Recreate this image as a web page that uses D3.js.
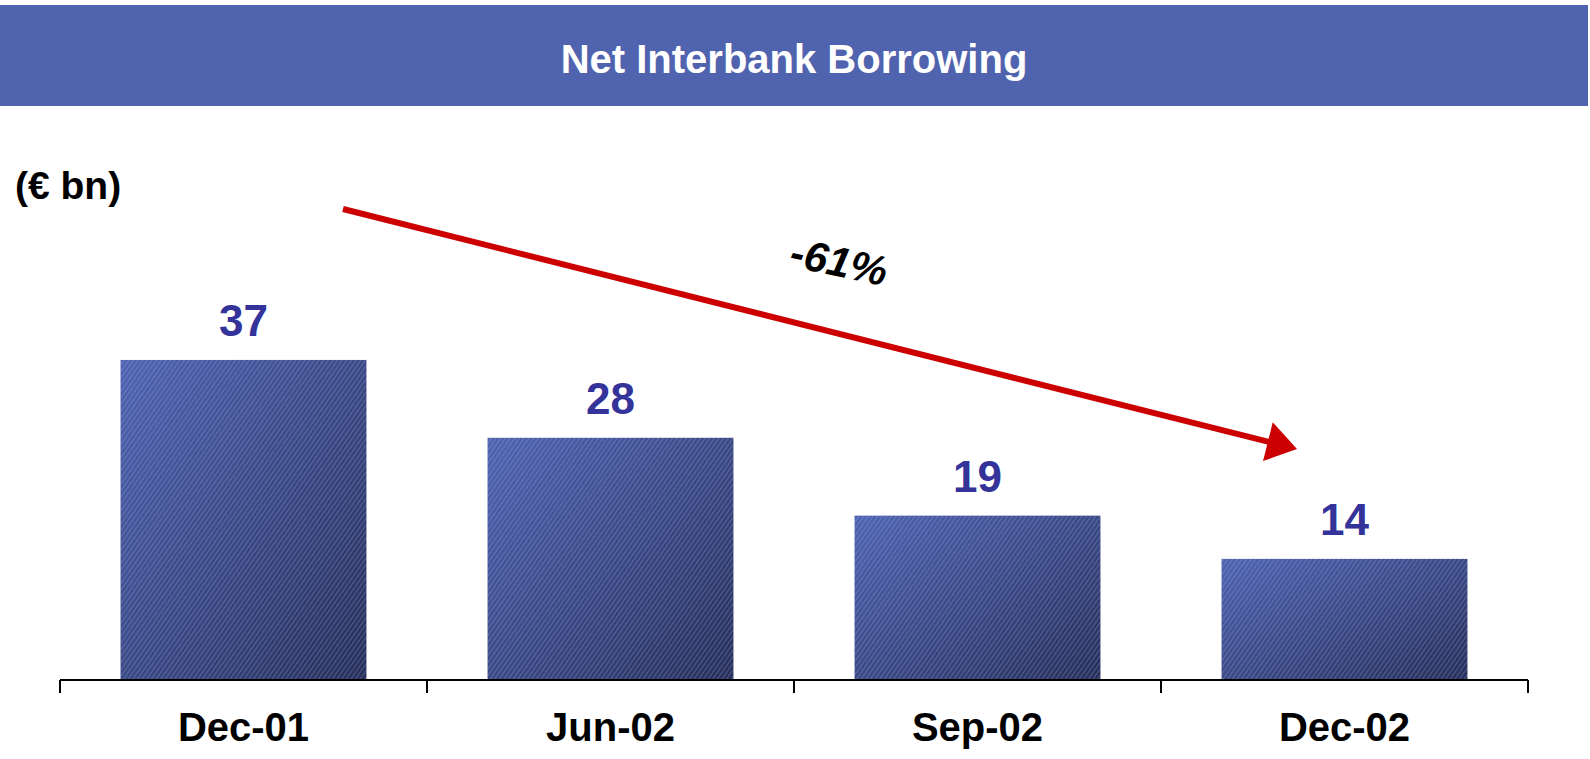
<!DOCTYPE html>
<html>
<head>
<meta charset="utf-8">
<script src="https://cdn.jsdelivr.net/npm/d3@7"></script>
<style>
  html, body { margin: 0; padding: 0; background: #ffffff; }
  svg { display: block; font-family: "Liberation Sans", Arial, sans-serif; }
</style>
</head>
<body>
<svg id="chart" width="1590" height="759"></svg>
<script>
// Net interbank borrowing, € bn
const categories = ["Dec-01", "Jun-02", "Sep-02", "Dec-02"];
const values = [37, 28, 19, 14];
const changeLabel = "-61%";
const titleText = "Net Interbank Borrowing";
const unitText = "(€ bn)";

const svg = d3.select("#chart");

// header band
svg.append("rect")
  .attr("x", 0).attr("y", 5)
  .attr("width", 1588).attr("height", 101)
  .attr("fill", "#5063ae");
svg.append("text")
  .attr("x", 794).attr("y", 73)
  .attr("text-anchor", "middle")
  .attr("fill", "#ffffff")
  .attr("font-weight", "bold")
  .attr("font-size", 40)
  .text(titleText);

// unit label
svg.append("text")
  .attr("x", 15).attr("y", 199)
  .attr("fill", "#000")
  .attr("font-weight", "bold")
  .attr("font-size", 39)
  .text(unitText);

// bar fill: diagonal gradient with fine light hatching
const defs = svg.append("defs");
const grad = defs.append("linearGradient")
  .attr("id", "barGrad")
  .attr("x1", 0).attr("y1", 0).attr("x2", 1).attr("y2", 1);
grad.append("stop").attr("offset", "0%").attr("stop-color", "#5064b0");
grad.append("stop").attr("offset", "100%").attr("stop-color", "#283058");

const pat = defs.append("pattern")
  .attr("id", "hatch")
  .attr("patternUnits", "userSpaceOnUse")
  .attr("width", 3.8).attr("height", 3.8)
  .attr("patternTransform", "rotate(35)");
pat.append("line")
  .attr("x1", 0.5).attr("y1", 0).attr("x2", 0.5).attr("y2", 3.8)
  .attr("stroke", "rgba(170,185,255,0.32)")
  .attr("stroke-width", 0.9);

// scales
const x = d3.scaleBand()
  .domain(categories)
  .range([60, 1528])
  .paddingInner(0.33)
  .paddingOuter(0.165);
const y = d3.scaleLinear().domain([0, 40]).range([680, 334]);

const bars = svg.append("g");
bars.selectAll("rect.base")
  .data(values)
  .join("rect")
  .attr("class", "base")
  .attr("x", (d, i) => x(categories[i]))
  .attr("y", d => y(d))
  .attr("width", x.bandwidth())
  .attr("height", d => y(0) - y(d))
  .attr("fill", "url(#barGrad)");
bars.selectAll("rect.hatch")
  .data(values)
  .join("rect")
  .attr("class", "hatch")
  .attr("x", (d, i) => x(categories[i]))
  .attr("y", d => y(d))
  .attr("width", x.bandwidth())
  .attr("height", d => y(0) - y(d))
  .attr("fill", "url(#hatch)");

// value labels
svg.append("g").selectAll("text")
  .data(values)
  .join("text")
  .attr("x", (d, i) => x(categories[i]) + x.bandwidth() / 2)
  .attr("y", d => y(d) - 24)
  .attr("text-anchor", "middle")
  .attr("fill", "#333399")
  .attr("font-weight", "bold")
  .attr("font-size", 44)
  .text(d => d);

// category axis: baseline with ticks at band boundaries
const step = x.step();
const bounds = categories.map(c => x(c) - step * x.paddingInner() / 2)
  .concat([x(categories[categories.length - 1]) + x.bandwidth() + step * x.paddingInner() / 2]);
const axis = svg.append("g");
axis.append("line")
  .attr("x1", bounds[0]).attr("x2", bounds[bounds.length - 1])
  .attr("y1", y(0)).attr("y2", y(0))
  .attr("stroke", "#000").attr("stroke-width", 2);
axis.selectAll("line.tick")
  .data(bounds)
  .join("line")
  .attr("class", "tick")
  .attr("x1", d => d).attr("x2", d => d)
  .attr("y1", y(0)).attr("y2", y(0) + 13)
  .attr("stroke", "#000").attr("stroke-width", 2);
axis.selectAll("text")
  .data(categories)
  .join("text")
  .attr("x", d => x(d) + x.bandwidth() / 2)
  .attr("y", 741)
  .attr("text-anchor", "middle")
  .attr("fill", "#000")
  .attr("font-weight", "bold")
  .attr("font-size", 40)
  .text(d => d);

// trend arrow
const a0 = [343, 209], tip = [1297, 449];
const dx = tip[0] - a0[0], dy = tip[1] - a0[1];
const len = Math.hypot(dx, dy);
const ux = dx / len, uy = dy / len;
const headLen = 30, headHalf = 20;
const base = [tip[0] - ux * headLen, tip[1] - uy * headLen];
svg.append("line")
  .attr("x1", a0[0]).attr("y1", a0[1])
  .attr("x2", base[0] + ux * 2).attr("y2", base[1] + uy * 2)
  .attr("stroke", "#cc0000").attr("stroke-width", 6);
svg.append("path")
  .attr("d", d3.line()([
    tip,
    [base[0] - uy * headHalf, base[1] + ux * headHalf],
    [base[0] + uy * headHalf, base[1] - ux * headHalf]
  ]) + "Z")
  .attr("fill", "#cc0000");

svg.append("text")
  .attr("transform", "translate(836,276) rotate(12)")
  .attr("text-anchor", "middle")
  .attr("fill", "#000")
  .attr("font-weight", "bold")
  .attr("font-style", "italic")
  .attr("font-size", 42)
  .text(changeLabel);
</script>
</body>
</html>
